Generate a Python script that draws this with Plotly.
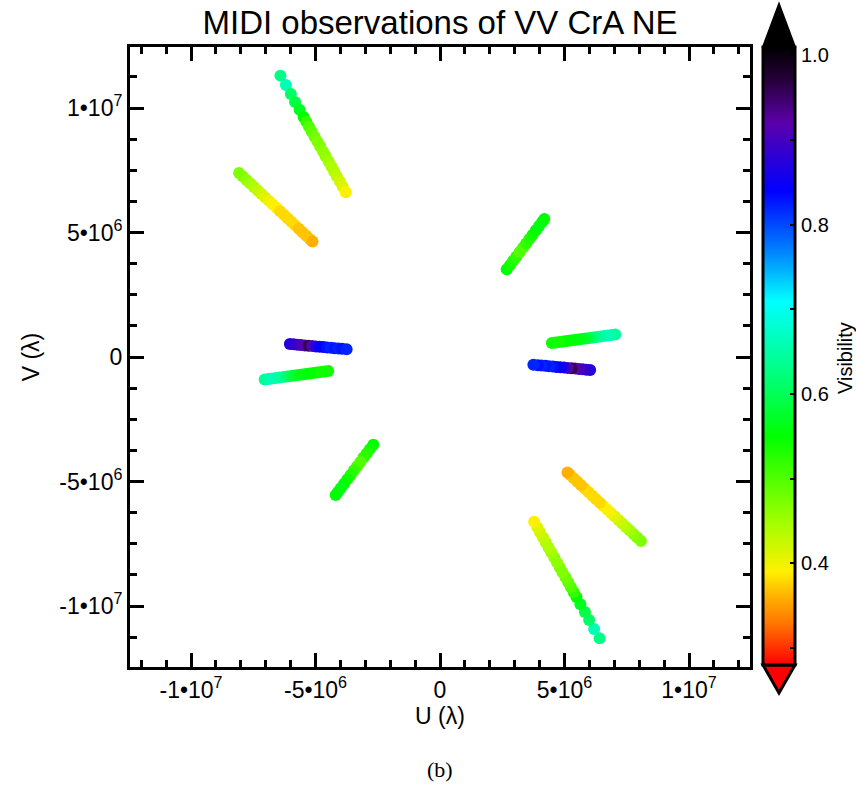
import numpy as np
import plotly.graph_objects as go

# ---------------- data (u, v in units of 1e6 lambda; visibility) ----------------
# Track A (upper-left, steep) ; its conjugate appears lower-right
u_a = [-6.41, -6.19, -5.99, -5.82, -5.64, -5.48, -5.37, -5.26, -5.15, -5.04, -4.92, -4.81,
       -4.70, -4.59, -4.47, -4.36, -4.25, -4.14, -4.02, -3.91, -3.78]
v_a = [11.30, 10.92, 10.56, 10.24, 9.93, 9.64, 9.45, 9.25, 9.05, 8.85, 8.65, 8.45,
       8.25, 8.05, 7.85, 7.65, 7.45, 7.25, 7.05, 6.85, 6.62]
vis_a = [0.63, 0.66, 0.61, 0.59, 0.57, 0.55, 0.52, 0.50, 0.49, 0.48, 0.47, 0.47,
         0.46, 0.46, 0.45, 0.44, 0.44, 0.43, 0.42, 0.41, 0.39]

# Track B (upper-left, shallow)
u_b = [-8.07, -7.92, -7.77, -7.62, -7.47, -7.32, -7.17, -7.02, -6.87, -6.72, -6.57,
       -6.42, -6.27, -6.12, -5.97, -5.82, -5.67, -5.52, -5.37, -5.22, -5.12]
v_b = [7.39, 7.25, 7.11, 6.97, 6.83, 6.69, 6.55, 6.41, 6.27, 6.13, 5.99,
       5.85, 5.71, 5.57, 5.43, 5.29, 5.15, 5.01, 4.87, 4.73, 4.64]
vis_b = [0.47, 0.47, 0.46, 0.45, 0.44, 0.43, 0.42, 0.41, 0.40, 0.39, 0.39,
         0.38, 0.38, 0.38, 0.38, 0.38, 0.37, 0.37, 0.37, 0.37, 0.36]

# Track C (upper-right, short)
u_c = [2.68, 2.81, 2.94, 3.07, 3.20, 3.33, 3.46, 3.59, 3.72, 3.85, 3.98, 4.10, 4.19]
v_c = [3.52, 3.69, 3.87, 4.04, 4.22, 4.39, 4.56, 4.74, 4.91, 5.09, 5.26, 5.42, 5.54]
vis_c = [0.55, 0.54, 0.53, 0.52, 0.50, 0.50, 0.52, 0.53, 0.54, 0.55, 0.56, 0.56, 0.55]

# Track D (left, near v = 0, high visibility)
u_d = [-6.03, -5.88, -5.73, -5.58, -5.43, -5.28, -5.13, -4.98, -4.83, -4.68, -4.53,
       -4.38, -4.23, -4.08, -3.93, -3.75]
v_d = [0.52, 0.51, 0.49, 0.48, 0.46, 0.45, 0.44, 0.42, 0.41, 0.40, 0.38,
       0.37, 0.35, 0.34, 0.33, 0.31]
vis_d = [0.87, 0.88, 0.89, 0.90, 0.92, 0.96, 0.92, 0.87, 0.85, 0.84, 0.83,
         0.82, 0.83, 0.82, 0.83, 0.82]

# Track E (left, just below v = 0)
u_e = [-7.04, -6.89, -6.74, -6.59, -6.44, -6.29, -6.14, -5.99, -5.84, -5.69, -5.54,
       -5.39, -5.24, -5.09, -4.94, -4.79, -4.64, -4.49]
v_e = [-0.90, -0.88, -0.86, -0.84, -0.82, -0.80, -0.78, -0.76, -0.74, -0.72, -0.70,
       -0.68, -0.66, -0.64, -0.62, -0.60, -0.58, -0.56]
vis_e = [0.64, 0.65, 0.66, 0.66, 0.65, 0.64, 0.62, 0.60, 0.58, 0.57, 0.56,
         0.56, 0.55, 0.55, 0.55, 0.54, 0.54, 0.54]

tracks = [(u_a, v_a, vis_a), (u_b, v_b, vis_b), (u_c, v_c, vis_c),
          (u_d, v_d, vis_d), (u_e, v_e, vis_e)]

axis_tickvals = [-1e7, -5e6, 0, 5e6, 1e7]
axis_ticktext = ["-1•10<sup>7</sup>", "-5•10<sup>6</sup>", "0",
                 "5•10<sup>6</sup>", "1•10<sup>7</sup>"]
cbar_tickvals = [0.3, 0.4, 0.5, 0.6, 0.7, 0.8, 0.9, 1.0]
cbar_ticktext = ["", "0.4", "", "0.6", "", "0.8", "", "1.0"]

VMIN, VMAX = 0.28, 1.01
colorscale = [
    [0.0, "rgb(255,0,0)"],
    [0.0685, "rgb(255,120,0)"],
    [0.1096, "rgb(255,175,0)"],
    [0.1507, "rgb(255,240,0)"],
    [0.2329, "rgb(160,255,0)"],
    [0.3699, "rgb(0,255,0)"],
    [0.4658, "rgb(0,255,120)"],
    [0.589, "rgb(0,255,255)"],
    [0.6712, "rgb(0,128,255)"],
    [0.767, "rgb(0,0,255)"],
    [0.877, "rgb(90,0,170)"],
    [0.945, "rgb(40,0,60)"],
    [1.0, "rgb(0,0,0)"],
]

# ---------------- figure ----------------
W, H = 856, 792
L, R, T, B = 130, 106, 47, 125
PW, PH = W - L - R, H - T - B

fig = go.Figure()
for (u, v, vis) in tracks:
    u = np.array(u) * 1e6
    v = np.array(v) * 1e6
    for sgn in (1, -1):  # baseline and its conjugate (-u, -v)
        fig.add_trace(go.Scatter(
            x=sgn * u, y=sgn * v, mode="markers",
            marker=dict(size=12, color=vis, coloraxis="coloraxis", line=dict(width=0)),
            showlegend=False, hoverinfo="skip"))

FONT = "Liberation Sans, Arial, sans-serif"
axis_common = dict(
    range=[-1.245e7, 1.245e7], tickvals=axis_tickvals, ticktext=axis_ticktext,
    ticks="inside", ticklen=14, tickwidth=3, tickcolor="black",
    showline=True, linewidth=3, linecolor="black", mirror="allticks",
    showgrid=False, zeroline=False,
    tickfont=dict(family=FONT, size=23, color="black"),
)
fig.update_xaxes(**axis_common,
                 minor=dict(dtick=1e6, tick0=0, ticks="inside", ticklen=7, tickwidth=3,
                            tickcolor="black", showgrid=False),
                 title=dict(text="U (λ)", font=dict(family=FONT, size=23, color="black"),
                            standoff=6))
fig.update_yaxes(**axis_common,
                 minor=dict(dtick=1.25e6, tick0=0, ticks="inside", ticklen=7, tickwidth=3,
                            tickcolor="black", showgrid=False),
                 title=dict(text="V (λ)", font=dict(family=FONT, size=23, color="black"),
                            standoff=14))


def px2x(px):
    return (px - L) / PW


def py2y(py):
    return (H - B - py) / PH


cb_left, cb_right = 763, 795
cb_top, cb_bot = 47, 665

fig.update_layout(
    width=W, height=H,
    margin=dict(l=L, r=R, t=T, b=B, pad=0, autoexpand=False),
    paper_bgcolor="white", plot_bgcolor="white",
    title=dict(text="MIDI observations of VV CrA NE", x=440 / W, xanchor="center",
               y=1 - 22 / H, yanchor="middle",
               font=dict(family=FONT, size=33, color="black")),
    coloraxis=dict(
        colorscale=colorscale, cmin=VMIN, cmax=VMAX,
        colorbar=dict(
            x=px2x(cb_left), xanchor="left", xpad=0, ypad=0,
            y=py2y(cb_top), yanchor="top", lenmode="fraction",
            len=(cb_bot - cb_top) / PH, thickness=cb_right - cb_left,
            outlinewidth=3, outlinecolor="black",
            tickvals=cbar_tickvals, ticktext=cbar_ticktext,
            ticks="inside", ticklen=6, tickwidth=2, tickcolor="black",
            tickfont=dict(family=FONT, size=20, color="black"),
        ),
    ),
    annotations=[
        dict(text="(b)", x=px2x(440), y=py2y(770), xref="paper", yref="paper",
             xanchor="center", yanchor="middle", showarrow=False,
             font=dict(family="Liberation Serif, serif", size=22, color="black")),
        dict(text="Visibility", x=px2x(845), y=py2y(358), xref="paper", yref="paper",
             xanchor="center", yanchor="middle", textangle=-90, showarrow=False,
             font=dict(family=FONT, size=20, color="black")),
    ],
)

# colour bar end triangles (over/under range indicators)
cx = (cb_left + cb_right) / 2
top_path = "M {a},{b} L {c},{b} L {d},{e} Z".format(
    a=px2x(cb_left), b=py2y(cb_top), c=px2x(cb_right), d=px2x(cx), e=py2y(4))
bot_path = "M {a},{b} L {c},{b} L {d},{e} Z".format(
    a=px2x(cb_left), b=py2y(cb_bot), c=px2x(cb_right), d=px2x(cx), e=py2y(693))
fig.add_shape(type="path", path=top_path, xref="paper", yref="paper",
              fillcolor="black", line=dict(color="black", width=2))
fig.add_shape(type="path", path=bot_path, xref="paper", yref="paper",
              fillcolor="red", line=dict(color="black", width=3))

fig.write_html("out.html")
